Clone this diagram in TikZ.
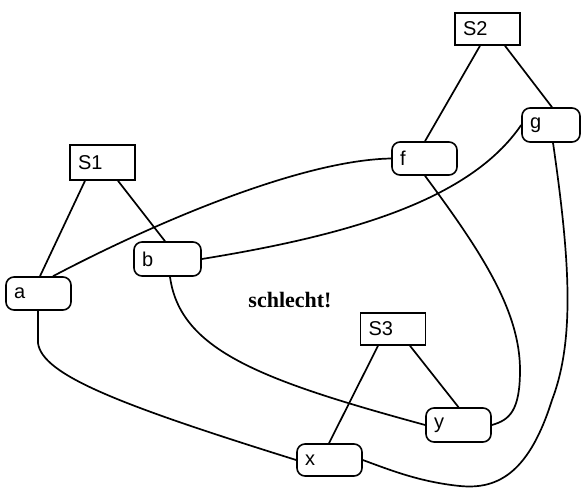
\documentclass[tikz,border=0pt]{standalone}
\usepackage{fontspec}
\setmainfont{Liberation Serif}
\setsansfont{Liberation Sans}
\begin{document}
\begin{tikzpicture}[x=1pt,y=-1pt,
  every node/.style={font=\sffamily\fontsize{20}{22}\selectfont},
  sbox/.style={draw,line width=1.6pt,rectangle,minimum height=33pt,
    inner xsep=8pt,inner ysep=0pt,align=left,text width=#1},
  sbox/.default=49pt,
  rbox/.style={sbox=#1,rounded corners=8pt},
  rbox/.default=49pt,
  edge/.style={line width=1.7pt}]
\useasboundingbox (0,0) rectangle (581,488);

% set boxes
\node[sbox,minimum height=35pt] (S1) at (102.5,162.5) {S1};
\node[sbox,minimum height=32pt] (S2) at (487.5,29) {S2};
\node[sbox,minimum height=32pt] (S3) at (393,329) {S3};

% element boxes
\node[rbox] (a) at (38.5,293.5) {a};
\node[rbox=51pt,minimum height=34pt] (b) at (167.5,259) {b};
\node[rbox] (f) at (424.5,158.5) {f};
\node[rbox=42pt,minimum height=34pt] (g) at (551,125) {g};
\node[rbox,minimum height=32pt] (x) at (329.5,460) {x};
\node[rbox,minimum height=34pt] (y) at (458.5,425) {y};

\node[font=\rmfamily\bfseries\fontsize{22}{24}\selectfont] (lbl) at (290,300) {schlecht!};

% membership lines
\draw[edge] ([xshift=-17.5pt]S1.south) -- ([xshift=1.5pt]a.north);
\draw[edge] ([xshift=15.5pt]S1.south) -- ([xshift=-2.5pt]b.north);
\draw[edge] ([xshift=-7.5pt]S2.south) -- ([xshift=0.5pt]f.north);
\draw[edge] ([xshift=17.5pt]S2.south) -- ([xshift=1pt]g.north);
\draw[edge] ([xshift=-15pt]S3.south) -- ([xshift=-0.5pt]x.north);
\draw[edge] ([xshift=17pt]S3.south) -- ([xshift=0pt]y.north);

% crossing connections
\draw[edge] ([xshift=14.5pt]a.north) .. controls (150,225) and (300,160) .. (f.west);
\draw[edge] (b.east) .. controls (350,235) and (470,200) .. (g.west);
\draw[edge] ([xshift=0.5pt]f.south) .. controls (480,250) and (520,310) .. (520,370)
  .. controls (520,410) and (510,420) .. (y.east);
\draw[edge] ([xshift=2pt]g.south) .. controls (570,260) and (575,340) .. (552,400)
  .. controls (530,470) and (500,490) .. (460,486)
  .. controls (420,482) and (390,470) .. (x.east);
\draw[edge] ([xshift=-0.5pt]a.south) -- (38,343) .. controls (42,375) and (120,405) .. (x.west);
\draw[edge] ([xshift=2.5pt]b.south) .. controls (180,350) and (260,380) .. (y.west);
\end{tikzpicture}
\end{document}
